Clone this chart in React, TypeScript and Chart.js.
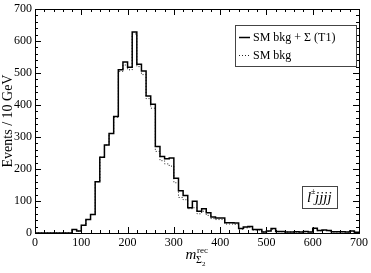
import React, { useEffect, useRef } from 'react';
import { Chart, registerables } from 'chart.js';

Chart.register(...registerables);

const BIN_WIDTH = 10;
const X_MIN = 0;
const X_MAX = 700;
const Y_MIN = 0;
const Y_MAX = 700;

// Events per 10 GeV bin, bins 0-10, 10-20, ..., 690-700
const totalCounts = [
  0, 0, 0, 0, 0, 0, 0, 0, 11, 6,
  24, 42, 58, 160, 237, 275, 311, 364, 510, 534,
  518, 628, 527, 506, 428, 402, 270, 239, 232, 234,
  171, 132, 117, 79, 99, 68, 76, 63, 50, 47,
  47, 32, 32, 31, 14, 19, 20, 11, 11, 3,
  6, 14, 5, 5, 3, 3, 4, 3, 5, 3,
  15, 8, 9, 8, 4, 4, 4, 3, 6, 2,
];

const bkgCounts = [
  0, 0, 0, 0, 0, 0, 0, 0, 11, 6,
  24, 42, 58, 160, 237, 275, 311, 362, 505, 525,
  510, 622, 520, 495, 420, 390, 255, 226, 216, 209,
  157, 111, 104, 76, 79, 60, 68, 55, 45, 42,
  42, 28, 28, 27, 12, 16, 17, 9, 9, 3,
  5, 12, 4, 4, 3, 3, 3, 3, 4, 3,
  13, 7, 8, 7, 3, 3, 4, 3, 5, 2,
];

const xTickValues = [0, 100, 200, 300, 400, 500, 600, 700];
const yTickValues = [0, 100, 200, 300, 400, 500, 600, 700];
const MINOR_STEP = 20;

const seriesLabels = ['SM bkg + \u03A3 (T1)', 'SM bkg'];
const yTitle = 'Events / 10 GeV';
const channelLabel = { lep: 'l', sup: '\u00B1', jets: 'jjjj' };

const SERIF = '"Liberation Serif", "Times New Roman", serif';

function toSteps(counts: number[]) {
  const pts = counts.map((c, i) => ({ x: X_MIN + i * BIN_WIDTH, y: c }));
  pts.push({ x: X_MIN + counts.length * BIN_WIDTH, y: counts[counts.length - 1] });
  return pts;
}

const decorPlugin = {
  id: 'decor',
  afterDraw(chart: any) {
    const { ctx, chartArea } = chart;
    const xs = chart.scales.x;
    const ys = chart.scales.y;
    const { left, right, top, bottom } = chartArea;
    ctx.save();
    ctx.strokeStyle = '#000';
    ctx.lineWidth = 1;
    // frame
    ctx.strokeRect(Math.round(left) + 0.5, Math.round(top) + 0.5, Math.round(right - left), Math.round(bottom - top));
    // ticks
    ctx.beginPath();
    for (let v = X_MIN; v <= X_MAX; v += MINOR_STEP) {
      const major = xTickValues.includes(v);
      const len = major ? 6 : 3;
      const px = Math.round(xs.getPixelForValue(v)) + 0.5;
      ctx.moveTo(px, bottom);
      ctx.lineTo(px, bottom - len);
      ctx.moveTo(px, top);
      ctx.lineTo(px, top + len);
    }
    for (let v = Y_MIN; v <= Y_MAX; v += MINOR_STEP) {
      const major = yTickValues.includes(v);
      const len = major ? 6 : 3;
      const py = Math.round(ys.getPixelForValue(v)) + 0.5;
      ctx.moveTo(left, py);
      ctx.lineTo(left + len, py);
      ctx.moveTo(right, py);
      ctx.lineTo(right - len, py);
    }
    ctx.stroke();

    // legend box
    const lx = right - 124;
    const ly = top + 16;
    const lw = 121;
    const lh = 41;
    ctx.fillStyle = '#fff';
    ctx.fillRect(lx, ly, lw, lh);
    ctx.strokeStyle = '#444';
    ctx.strokeRect(Math.round(lx) + 0.5, Math.round(ly) + 0.5, lw, lh);
    const ds = chart.data.datasets;
    ctx.font = `12px ${SERIF}`;
    ctx.fillStyle = '#000';
    ctx.textBaseline = 'middle';
    ctx.textAlign = 'left';
    const rows = [ly + 11.5, ly + 29.5];
    ds.forEach((d: any, i: number) => {
      ctx.beginPath();
      ctx.strokeStyle = d.borderColor;
      ctx.lineWidth = d.borderWidth;
      ctx.setLineDash(d.borderDash || []);
      ctx.moveTo(lx + 4, Math.round(rows[i]) + 0.5);
      ctx.lineTo(lx + 15, Math.round(rows[i]) + 0.5);
      ctx.stroke();
      ctx.setLineDash([]);
      ctx.fillText(d.label, lx + 18, rows[i] + 1);
    });

    // channel label box
    const bx = right - 57;
    const by = top + 177;
    const bw = 35;
    const bh = 22;
    ctx.strokeStyle = '#444';
    ctx.lineWidth = 1;
    ctx.strokeRect(Math.round(bx) + 0.5, Math.round(by) + 0.5, bw, bh);
    ctx.fillStyle = '#000';
    ctx.textBaseline = 'alphabetic';
    ctx.font = `italic 15px ${SERIF}`;
    ctx.fillText(channelLabel.lep, bx + 5, by + 16);
    ctx.font = `8px ${SERIF}`;
    ctx.fillText(channelLabel.sup, bx + 9, by + 7.5);
    ctx.font = `italic 15px ${SERIF}`;
    ctx.fillText(channelLabel.jets, bx + 13, by + 16);

    // x title: m_{Sigma_2}^{rec}
    const cx = (left + right) / 2;
    ctx.font = `italic 15px ${SERIF}`;
    ctx.fillText('m', cx - 11.5, 258.5);
    ctx.font = `9px ${SERIF}`;
    ctx.fillText('rec', cx, 252.5);
    ctx.font = `10px ${SERIF}`;
    ctx.fillText('\u03A3', cx - 1, 262.5);
    ctx.font = `7px ${SERIF}`;
    ctx.fillText('2', cx + 5, 265.5);
    ctx.restore();
  },
};

export default function App() {
  const ref = useRef<HTMLCanvasElement | null>(null);
  useEffect(() => {
    if (!ref.current) return;
    const chart = new Chart(ref.current, {
      type: 'line',
      data: {
        datasets: [
          {
            label: seriesLabels[0],
            data: toSteps(totalCounts),
            borderColor: '#000',
            borderWidth: 1.5,
            stepped: true,
            pointRadius: 0,
            fill: false,
          },
          {
            label: seriesLabels[1],
            data: toSteps(bkgCounts),
            borderColor: '#222',
            borderWidth: 1,
            borderDash: [1, 2],
            stepped: true,
            pointRadius: 0,
            fill: false,
          },
        ],
      },
      options: {
        animation: false,
        responsive: false,
        maintainAspectRatio: false,
        layout: { padding: { left: 0, top: 5, right: 10, bottom: 0 } },
        plugins: { legend: { display: false }, tooltip: { enabled: false } },
        scales: {
          x: {
            type: 'linear',
            min: X_MIN,
            max: X_MAX,
            grid: { display: false, drawTicks: false },
            border: { display: false },
            ticks: {
              stepSize: 100,
              padding: 3,
              color: '#000',
              font: { family: SERIF, size: 12 },
              maxRotation: 0,
            },
            afterFit: (s: any) => {
              s.height = 40;
            },
          },
          y: {
            min: Y_MIN,
            max: Y_MAX,
            grid: { display: false, drawTicks: false },
            border: { display: false },
            ticks: {
              stepSize: 100,
              padding: 3,
              color: '#000',
              font: { family: SERIF, size: 12, lineHeight: 1 },
            },
            title: {
              display: true,
              text: yTitle,
              color: '#000',
              font: { family: SERIF, size: 14 },
              padding: { top: 0, bottom: 0 },
            },
            afterFit: (s: any) => {
              s.width = 35;
            },
          },
        },
      },
      plugins: [decorPlugin],
    });
    return () => chart.destroy();
  }, []);
  return (
    <div style={{ position: 'fixed', left: 0, top: 0, width: 371, height: 273, background: '#fff' }}>
      <canvas ref={ref} width={371} height={273} style={{ width: 371, height: 273 }} />
    </div>
  );
}
